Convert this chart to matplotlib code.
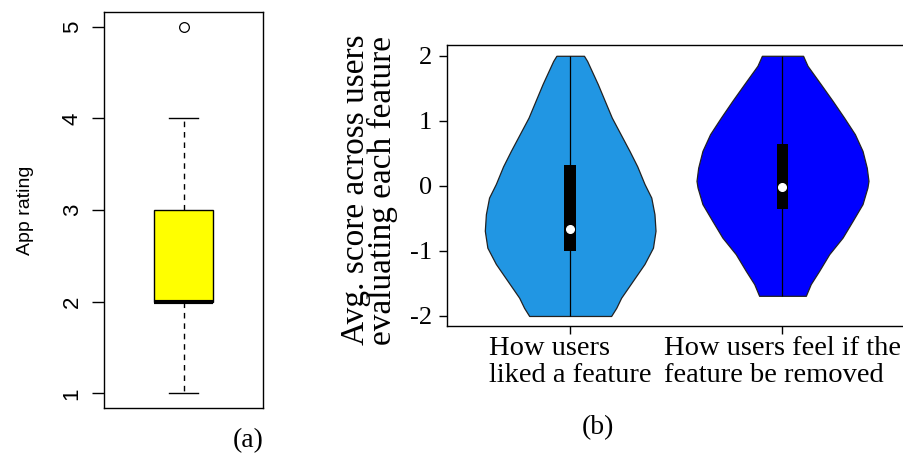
import matplotlib
matplotlib.use("Agg")
import matplotlib.pyplot as plt
from matplotlib.patches import Rectangle

plt.rcParams['axes.unicode_minus'] = False

# (a) app rating boxplot summary
rating_stats = dict(whislo=1, q1=2, med=2, q3=3, whishi=4, fliers=[5])
rating_ticks = [1, 2, 3, 4, 5]

# (b) violin outlines: score level and half width
liked_y = [2.0, 1.92, 1.565, 1.05, 0.54, 0.3, 0.03, -0.18, -0.435, -0.69,
           -0.95, -1.2, -1.46, -1.72, -1.875, -2.0]
liked_hw = [0.065, 0.080, 0.130, 0.196, 0.279, 0.316, 0.350, 0.382, 0.397,
            0.402, 0.390, 0.350, 0.295, 0.240, 0.217, 0.193]
removed_y = [2.0, 1.846, 1.565, 1.308, 1.05, 0.795, 0.538, 0.28, 0.077,
             -0.026, -0.28, -0.54, -0.795, -1.05, -1.31, -1.51, -1.69]
removed_hw = [0.097, 0.118, 0.180, 0.236, 0.290, 0.341, 0.377, 0.397, 0.405,
              0.400, 0.377, 0.330, 0.283, 0.220, 0.172, 0.133, 0.110]

# min, q1, median, q3, max
liked_box = [-2.0, -1.0, -0.67, 0.32, 2.0]
removed_box = [-1.69, -0.36, -0.02, 0.64, 2.0]

labels = ["How users\nliked a feature", "How users feel if the\nfeature be removed"]
colors = ["#2196E3", "#0000FF"]
score_ticks = [-2, -1, 0, 1, 2]

fig = plt.figure(figsize=(9.04, 4.57), dpi=100)

# ---- panel (a)
ax1 = fig.add_axes([0.1154, 0.1072, 0.1752, 0.8665])
ax1.bxp([rating_stats], positions=[1], widths=0.4, capwidths=[0.196],
        patch_artist=True, showfliers=True,
        boxprops=dict(facecolor="#FFFF00", edgecolor="black", linewidth=1),
        medianprops=dict(color="black", linewidth=3, solid_capstyle="butt"),
        whiskerprops=dict(color="black", linewidth=1, linestyle=(0, (4, 3.5))),
        capprops=dict(color="black", linewidth=1),
        flierprops=dict(marker="o", markerfacecolor="none", markeredgecolor="black",
                        markersize=7, markeredgewidth=0.9))
ax1.set_xlim(0.46, 1.54)
ax1.set_ylim(0.84, 5.16)
ax1.set_xticks([])
ax1.set_yticks(rating_ticks)
ax1.set_yticklabels([str(t) for t in rating_ticks], rotation=90, va="center",
                    fontfamily="Liberation Sans", fontsize=16)
ax1.tick_params(axis="y", length=8.6, width=1, pad=7)
ax1.set_ylabel("App rating", fontfamily="Liberation Sans", fontsize=14, labelpad=20)
for s in ax1.spines.values():
    s.set_linewidth(1)
fig.text(248 / 904, 1 - 441 / 457, "(a)", ha="center", va="center",
         fontfamily="Liberation Serif", fontsize=20)

# ---- panel (b)
ax2 = fig.add_axes([0.4945, 0.2858, 0.5073, 0.6149])
violins = [(liked_y, liked_hw, liked_box), (removed_y, removed_hw, removed_box)]
for i, (ys, hws, box) in enumerate(violins):
    pos = i + 1
    ax2.fill_betweenx(ys, [pos - h for h in hws], [pos + h for h in hws],
                      facecolor=colors[i], edgecolor="#222222", linewidth=0.9)
    ax2.vlines(pos, box[0], box[4], color="black", linewidth=0.9)
    ax2.add_patch(Rectangle((pos - 0.028, box[1]), 0.056, box[3] - box[1],
                            facecolor="black", edgecolor="none"))
    ax2.plot(pos, box[2], "o", color="white", markersize=5.5, zorder=5)

ax2.set_xlim(0.42, 2.58)
ax2.set_ylim(-2.16, 2.16)
ax2.set_xticks([1, 2])
ax2.set_xticklabels(labels, fontfamily="Liberation Serif", fontsize=20.5,
                    multialignment="left", linespacing=1.12)
ax2.set_yticks(score_ticks)
ax2.set_yticklabels([str(t) for t in score_ticks], fontfamily="Liberation Serif",
                    fontsize=19)
ax2.tick_params(axis="both", length=6, width=1)
ax2.tick_params(axis="y", pad=5)
ax2.tick_params(axis="x", pad=1)
ax2.spines["right"].set_visible(False)
for s in ax2.spines.values():
    s.set_linewidth(1)
fig.text(369 / 904, 1 - 189.5 / 457, "Avg. score across users\nevaluating each feature",
         rotation=90, ha="center", va="center", multialignment="left",
         fontfamily="Liberation Serif", fontsize=24, linespacing=0.82)
fig.text(598 / 904, 1 - 428 / 457, "(b)", ha="center", va="center",
         fontfamily="Liberation Serif", fontsize=20)

fig.savefig("out.png", dpi=100)
